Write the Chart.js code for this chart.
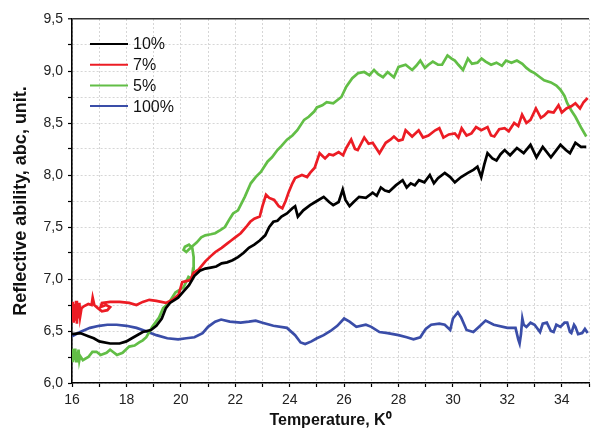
<!DOCTYPE html>
<html>
<head>
<meta charset="utf-8">
<script src="https://cdn.jsdelivr.net/npm/chart.js@4.4.0/dist/chart.umd.min.js"></script>
<style>
  html, body { margin: 0; padding: 0; background: #fff; }
  #wrap { width: 594px; height: 431px; }
</style>
</head>
<body>
<div id="wrap"><canvas id="chart" width="594" height="431"></canvas></div>
<script>
// ===========================
// Data (temperature, reflective ability)
// ===========================
const labels = ["10%", "7%", "5%", "100%"];
const colors = ["#000000", "#ec1c24", "#62be46", "#3a4da8"];

const series10 = [[16.0,6.47],[16.3,6.48],[16.6,6.45],[16.8,6.43],[17.0,6.40],[17.4,6.38],[17.75,6.38],[18.0,6.40],[18.2,6.43],[18.6,6.49],
  [18.9,6.51],[19.1,6.55],[19.3,6.62],[19.45,6.72],[19.6,6.77],[19.9,6.82],[20.1,6.88],[20.3,6.94],[20.5,7.03],[20.7,7.08],
  [20.9,7.10],[21.1,7.11],[21.3,7.12],[21.5,7.15],[21.7,7.16],[21.9,7.18],[22.1,7.21],[22.3,7.25],[22.5,7.30],[22.7,7.33],
  [22.9,7.37],[23.1,7.42],[23.25,7.50],[23.4,7.55],[23.55,7.56],[23.7,7.60],[23.9,7.63],[24.1,7.68],[24.2,7.70],[24.3,7.60],
  [24.5,7.66],[24.75,7.71],[25.0,7.75],[25.25,7.79],[25.45,7.74],[25.6,7.71],[25.8,7.74],[25.95,7.86],[26.05,7.76],[26.2,7.70],
  [26.35,7.74],[26.55,7.79],[26.8,7.78],[27.05,7.83],[27.2,7.80],[27.35,7.88],[27.5,7.85],[27.65,7.84],[27.9,7.90],[28.15,7.95],
  [28.3,7.88],[28.45,7.92],[28.6,7.90],[28.75,7.95],[28.95,7.93],[29.15,8.00],[29.3,7.92],[29.45,7.97],[29.7,8.02],[29.9,7.98],
  [30.07,7.93],[30.3,7.98],[30.55,8.02],[30.75,8.05],[30.9,8.08],[31.04,7.98],[31.15,8.10],[31.27,8.21],[31.45,8.16],[31.6,8.14],
  [31.75,8.20],[31.9,8.24],[32.1,8.19],[32.35,8.26],[32.6,8.21],[32.85,8.29],[33.07,8.17],[33.3,8.27],[33.6,8.17],[33.95,8.29],
  [34.15,8.24],[34.3,8.21],[34.5,8.31],[34.7,8.27],[34.9,8.27]];

const series7 = [[16.0,6.62],[16.03,6.78],[16.06,6.58],[16.09,6.76],[16.12,6.60],[16.15,6.79],[16.18,6.57],[16.21,6.74],[16.24,6.62],[16.27,6.77],
  [16.3,6.64],[16.35,6.72],[16.45,6.74],[16.6,6.76],[16.72,6.75],[16.76,6.82],[16.82,6.75],[16.95,6.72],[17.1,6.69],[17.3,6.70],
  [17.4,6.73],[17.25,6.75],[17.05,6.73],[17.1,6.77],[17.4,6.78],[17.75,6.78],[18.1,6.77],[18.37,6.75],[18.6,6.78],[18.84,6.80],
  [19.1,6.79],[19.45,6.77],[19.7,6.80],[19.92,6.85],[20.05,6.97],[20.2,6.98],[20.35,6.99],[20.47,7.06],[20.65,7.09],[20.9,7.17],
  [21.1,7.22],[21.27,7.26],[21.5,7.30],[21.7,7.34],[21.85,7.37],[22.0,7.40],[22.2,7.44],[22.4,7.50],[22.55,7.55],[22.7,7.58],
  [22.9,7.60],[23.0,7.70],[23.13,7.81],[23.25,7.78],[23.43,7.76],[23.6,7.70],[23.73,7.68],[23.85,7.75],[23.97,7.84],[24.1,7.92],
  [24.2,7.97],[24.45,8.00],[24.64,7.98],[24.75,8.02],[24.92,8.07],[25.1,8.21],[25.3,8.16],[25.45,8.20],[25.6,8.19],[25.8,8.22],
  [25.96,8.19],[26.08,8.26],[26.26,8.34],[26.4,8.25],[26.5,8.24],[26.74,8.36],[26.9,8.30],[27.05,8.31],[27.3,8.21],[27.53,8.31],
  [27.7,8.34],[27.83,8.37],[28.0,8.33],[28.15,8.34],[28.26,8.43],[28.5,8.37],[28.74,8.43],[28.9,8.36],[29.1,8.38],[29.35,8.43],
  [29.5,8.45],[29.65,8.36],[29.85,8.39],[30.07,8.40],[30.2,8.36],[30.32,8.45],[30.5,8.38],[30.68,8.40],[30.85,8.46],[31.04,8.43],
  [31.27,8.46],[31.4,8.38],[31.52,8.37],[31.7,8.44],[31.9,8.45],[32.05,8.42],[32.25,8.50],[32.4,8.47],[32.54,8.58],[32.7,8.50],
  [32.85,8.53],[33.05,8.64],[33.23,8.55],[33.35,8.57],[33.5,8.61],[33.7,8.60],[33.88,8.67],[34.0,8.60],[34.17,8.64],[34.35,8.66],
  [34.5,8.69],[34.67,8.64],[34.8,8.70],[34.95,8.74]];

const series5 = [[16.0,6.33],[16.03,6.20],[16.06,6.32],[16.09,6.22],[16.12,6.33],[16.15,6.21],[16.18,6.30],[16.21,6.23],[16.24,6.32],[16.27,6.22],
  [16.3,6.26],[16.4,6.22],[16.6,6.25],[16.75,6.30],[16.9,6.30],[17.05,6.27],[17.27,6.29],[17.4,6.32],[17.5,6.30],[17.65,6.27],
  [17.86,6.29],[18.1,6.35],[18.3,6.36],[18.47,6.39],[18.6,6.41],[18.73,6.44],[18.95,6.54],[19.2,6.63],[19.35,6.72],[19.56,6.77],
  [19.7,6.83],[19.8,6.87],[20.1,6.92],[20.28,7.02],[20.4,7.00],[20.45,7.10],[20.47,7.21],[20.42,7.30],[20.3,7.33],[20.15,7.31],
  [20.1,7.28],[20.2,7.26],[20.36,7.30],[20.58,7.35],[20.75,7.40],[20.9,7.42],[21.1,7.43],[21.26,7.44],[21.45,7.47],[21.62,7.50],
  [21.8,7.58],[21.92,7.63],[22.1,7.66],[22.35,7.79],[22.57,7.92],[22.75,7.98],[22.94,8.03],[23.19,8.13],[23.35,8.17],[23.55,8.24],
  [23.7,8.28],[23.9,8.34],[24.1,8.38],[24.28,8.43],[24.53,8.53],[24.7,8.56],[24.9,8.61],[25.0,8.65],[25.2,8.67],[25.36,8.70],
  [25.6,8.69],[25.9,8.75],[26.08,8.85],[26.3,8.93],[26.52,8.98],[26.74,8.99],[26.93,8.96],[27.1,9.01],[27.25,8.97],[27.43,8.94],
  [27.6,8.99],[27.83,8.94],[28.0,9.04],[28.26,9.06],[28.5,9.01],[28.65,9.05],[28.8,9.10],[28.97,9.03],[29.1,9.06],[29.26,9.09],
  [29.45,9.06],[29.6,9.06],[29.8,9.15],[29.95,9.12],[30.07,9.10],[30.2,9.06],[30.37,9.01],[30.55,9.12],[30.7,9.07],[30.9,9.08],
  [31.05,9.12],[31.2,9.09],[31.4,9.06],[31.6,9.08],[31.8,9.05],[31.95,9.10],[32.15,9.08],[32.35,9.10],[32.55,9.07],[32.7,9.03],
  [32.85,9.00],[33.0,8.98],[33.15,8.95],[33.35,8.91],[33.6,8.89],[33.8,8.86],[33.95,8.82],[34.1,8.76],[34.2,8.69],[34.35,8.62],
  [34.5,8.56],[34.7,8.46],[34.9,8.37]];

const series100 = [[16.0,6.45],[16.3,6.49],[16.66,6.53],[17.0,6.55],[17.3,6.56],[17.64,6.56],[18.0,6.55],[18.37,6.53],[18.7,6.50],[19.1,6.46],
  [19.5,6.43],[19.9,6.42],[20.2,6.43],[20.5,6.44],[20.8,6.48],[21.0,6.54],[21.26,6.59],[21.48,6.61],[21.8,6.59],[22.2,6.58],
  [22.5,6.59],[22.75,6.60],[23.0,6.58],[23.4,6.55],[23.9,6.53],[24.2,6.46],[24.4,6.39],[24.57,6.375],[24.8,6.40],[25.0,6.43],
  [25.25,6.46],[25.5,6.50],[25.75,6.55],[26.0,6.62],[26.2,6.59],[26.45,6.54],[26.8,6.56],[27.0,6.54],[27.3,6.49],[27.6,6.48],
  [28.0,6.46],[28.3,6.44],[28.55,6.42],[28.8,6.44],[28.9,6.48],[29.0,6.52],[29.2,6.56],[29.5,6.57],[29.7,6.56],[29.9,6.51],
  [30.0,6.62],[30.18,6.68],[30.3,6.63],[30.5,6.51],[30.75,6.49],[31.0,6.55],[31.2,6.60],[31.5,6.56],[32.0,6.53],[32.3,6.53],
  [32.4,6.42],[32.45,6.38],[32.5,6.47],[32.55,6.62],[32.6,6.56],[32.7,6.54],[32.85,6.58],[33.0,6.56],[33.2,6.49],[33.3,6.57],
  [33.45,6.58],[33.6,6.50],[33.7,6.49],[33.8,6.56],[33.95,6.54],[34.1,6.58],[34.2,6.58],[34.3,6.49],[34.35,6.48],[34.45,6.56],
  [34.5,6.54],[34.6,6.47],[34.75,6.48],[34.85,6.52],[34.95,6.48]];

const allSeries = [series10, series7, series5, series100];

// axis settings
const xMin = 16, xMax = 35;
const yMin = 6.0, yMax = 9.5;
const font = "'Liberation Sans', Arial, sans-serif";

// ===========================
// Legend drawn inside the plot, top left
// ===========================
const insideLegend = {
  id: "insideLegend",
  afterDraw(chart) {
    const ctx = chart.ctx;
    ctx.save();
    chart.data.datasets.forEach((ds, i) => {
      const y = 44 + i * 20.7;
      ctx.strokeStyle = ds.borderColor;
      ctx.lineWidth = 2;
      ctx.beginPath();
      ctx.moveTo(90, y);
      ctx.lineTo(128, y);
      ctx.stroke();
      ctx.fillStyle = "#111";
      ctx.font = "16px " + font;
      ctx.textBaseline = "middle";
      ctx.fillText(ds.label, 133, y + 1);
    });
    ctx.restore();
  }
};

const datasets = allSeries.map((s, i) => ({
  label: labels[i],
  data: s.map(p => ({ x: p[0], y: p[1] })),
  borderColor: colors[i],
  backgroundColor: colors[i],
  borderWidth: 2.7,
  pointRadius: 0,
  showLine: true,
  tension: 0
}));

new Chart(document.getElementById("chart"), {
  type: "scatter",
  data: { datasets },
  options: {
    responsive: false,
    animation: false,
    layout: { padding: { top: 19, right: 0, bottom: 0, left: 0 } },
    plugins: { legend: { display: false }, tooltip: { enabled: false } },
    scales: {
      x: {
        type: "linear",
        min: xMin, max: xMax,
        afterFit: s => { s.height = 48; },
        ticks: {
          stepSize: 1,
          autoSkip: false,
          maxRotation: 0,
          padding: 5,
          color: "#222",
          font: { family: font, size: 14 },
          callback: v => (v % 2 === 0 ? String(v) : "")
        },
        grid: { color: "#d6d6d6", lineWidth: 1, tickLength: 4, tickColor: "#000", tickWidth: 1.2 },
        border: { color: "#000", width: 1.6, dash: [2, 2] },
        title: {
          display: true,
          text: "Temperature, K\u2070",
          color: "#111",
          font: { family: font, size: 16, weight: "bold" },
          padding: { top: 0, bottom: 1 }
        }
      },
      y: {
        type: "linear",
        min: yMin, max: yMax,
        afterFit: s => { s.width = 72; },
        ticks: {
          stepSize: 0.25,
          autoSkip: false,
          padding: 5,
          color: "#222",
          font: { family: font, size: 14 },
          callback: v => (Math.abs(v * 2 - Math.round(v * 2)) < 1e-6 ? v.toFixed(1).replace(".", ",") : "")
        },
        grid: {
          color: c => (c.tick && c.tick.value === yMax ? "#333" : "#d6d6d6"),
          lineWidth: c => (c.tick && c.tick.value === yMax ? 1.6 : 1),
          tickLength: 4, tickColor: "#000", tickWidth: 1.2
        },
        border: { color: "#000", width: 1.6, dash: c => (c.tick && c.tick.value === yMax ? [] : [2, 2]) },
        title: {
          display: true,
          text: "Reflective ability, abc, unit.",
          color: "#111",
          font: { family: font, size: 18, weight: "bold" },
          padding: { top: 10, bottom: 0 }
        }
      }
    }
  },
  plugins: [insideLegend]
});
</script>
</body>
</html>
